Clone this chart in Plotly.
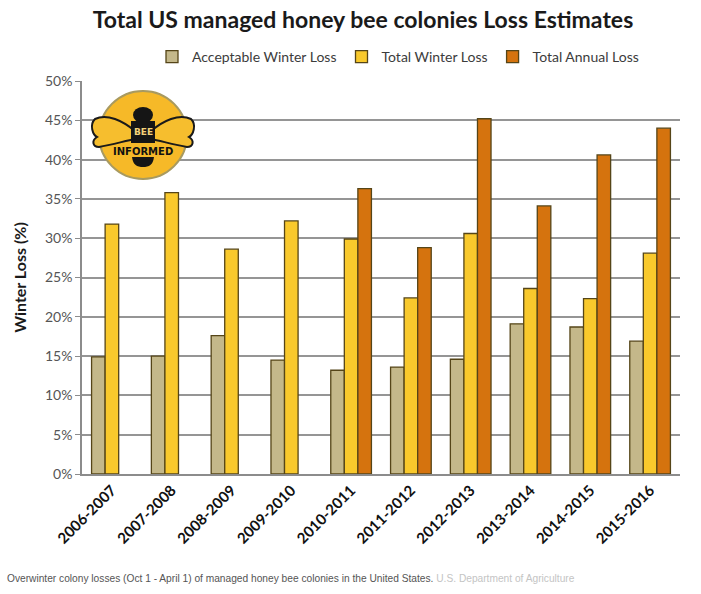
import plotly.graph_objects as go

seasons = ["2006-2007", "2007-2008", "2008-2009", "2009-2010", "2010-2011",
           "2011-2012", "2012-2013", "2013-2014", "2014-2015", "2015-2016"]
acceptable_loss = [14.9, 15.0, 17.6, 14.5, 13.2, 13.6, 14.6, 19.1, 18.7, 16.9]
total_winter_loss = [31.8, 35.8, 28.6, 32.2, 29.9, 22.4, 30.6, 23.6, 22.3, 28.1]
total_annual_loss = [None, None, None, None, 36.3, 28.8, 45.2, 34.1, 40.6, 44.0]

series_names = ["Acceptable Winter Loss", "Total Winter Loss", "Total Annual Loss"]
colors = ["#C4B88A", "#F9C92C", "#D5730E"]

W, H = 701, 594
L, R, T, B = 82, 21, 81, 120
PW, PH = W - L - R, H - T - B

def px(x):
    return (x - L) / PW

def py(y):
    return (H - B - y) / PH

fig = go.Figure()
for name, vals, col in zip(series_names, [acceptable_loss, total_winter_loss, total_annual_loss], colors):
    fig.add_trace(go.Bar(
        x=seasons, y=vals, name=name,
        marker=dict(color=col, line=dict(color="#554518", width=1.3)),
    ))

CH = "Lato, 'Open Sans', sans-serif"

fig.update_layout(
    width=W, height=H,
    margin=dict(l=L, r=R, t=T, b=B),
    paper_bgcolor="white", plot_bgcolor="white",
    barmode="group", bargap=0.32, bargroupgap=0,
    title=dict(text="<b>Total US managed honey bee colonies Loss Estimates</b>",
               x=px(363), xref="paper", xanchor="center",
               y=1 - 20 / H, yref="container", yanchor="middle",
               font=dict(family=CH, size=23, color="#1a1a1a")),
    legend=dict(orientation="h", x=px(398), xanchor="center", y=py(57), yanchor="middle",
                font=dict(family=CH, size=14, color="#3c3c3c"),
                itemwidth=30, traceorder="normal", bgcolor="rgba(0,0,0,0)"),
    xaxis=dict(
        tickangle=-45, tickfont=dict(family=CH, size=15, color="#111111", weight="bold"),
        showline=True, linecolor="#8c8c8c", linewidth=1.5, ticks="", showgrid=False,
    ),
    yaxis=dict(
        range=[0, 50], dtick=5, ticksuffix="%",
        tickfont=dict(family=CH, size=14, color="#555555"),
        showgrid=True, gridcolor="#959595", gridwidth=1.5,
        showline=True, linecolor="#8c8c8c", linewidth=1.5,
        ticks="outside", ticklen=5, tickcolor="#8c8c8c",
        zeroline=False,
        title=dict(text="<b>Winter Loss (%)</b>", font=dict(family=CH, size=16, color="#1a1a1a"), standoff=14),
    ),
)

# Bee Informed logo (decorative shapes)
cx, cy = 143, 135
ax, ay = px(cx), py(cy)
common = dict(xref="paper", yref="paper", xsizemode="pixel", ysizemode="pixel", xanchor=ax, yanchor=ay)
fig.add_shape(type="circle", x0=-44, x1=44, y0=-44, y1=44,
              fillcolor="#F6B928", line=dict(color="#A89A60", width=2), layer="above", **common)
left_wing = "M -8 4 C -20 14, -36 22, -48 16 C -54 10, -50 0, -46 -2 C -52 -6, -50 -12, -44 -12 C -32 -10, -18 -6, -8 -4 Z"
right_wing = "M 8 4 C 20 14, 36 22, 48 16 C 54 10, 50 0, 46 -2 C 52 -6, 50 -12, 44 -12 C 32 -10, 18 -6, 8 -4 Z"
for p in (left_wing, right_wing):
    fig.add_shape(type="path", path=p, fillcolor="#F6BE2E",
                  line=dict(color="#1a1a1a", width=2), layer="above", **common)
fig.add_shape(type="circle", x0=-10, x1=10, y0=12, y1=28, fillcolor="#151515",
              line=dict(width=0), layer="above", **common)
fig.add_shape(type="path", path="M -12 14 L 12 14 L 12 -8 L -12 -8 Z", fillcolor="#151515",
              line=dict(width=0), layer="above", **common)
fig.add_shape(type="path", path="M -11 -22 L 11 -22 C 10 -30, 6 -32, 0 -32 C -6 -32, -10 -30, -11 -22 Z",
              fillcolor="#151515", line=dict(width=0), layer="above", **common)
fig.add_annotation(x=ax, y=ay + 3 / PH, xref="paper", yref="paper", text="<b>BEE</b>", showarrow=False,
                   xanchor="center", yanchor="middle",
                   font=dict(family="DejaVu Sans", size=9, color="#F3D27A"))
fig.add_annotation(x=ax, y=py(151), xref="paper", yref="paper", text="<b>INFORMED</b>", showarrow=False,
                   xanchor="center", yanchor="middle",
                   font=dict(family="DejaVu Sans", size=10, color="#111111"))

fig.add_annotation(
    x=px(5), y=py(578), xref="paper", yref="paper", xanchor="left", yanchor="middle", showarrow=False,
    text="Overwinter colony losses (Oct 1 - April 1) of managed honey bee colonies in the United States. "
         "<span style='color:#c4c4c4'>U.S. Department of Agriculture</span>",
    font=dict(family="Liberation Sans, Arial, sans-serif", size=10.2, color="#555555"),
)

fig.write_html("out.html")
